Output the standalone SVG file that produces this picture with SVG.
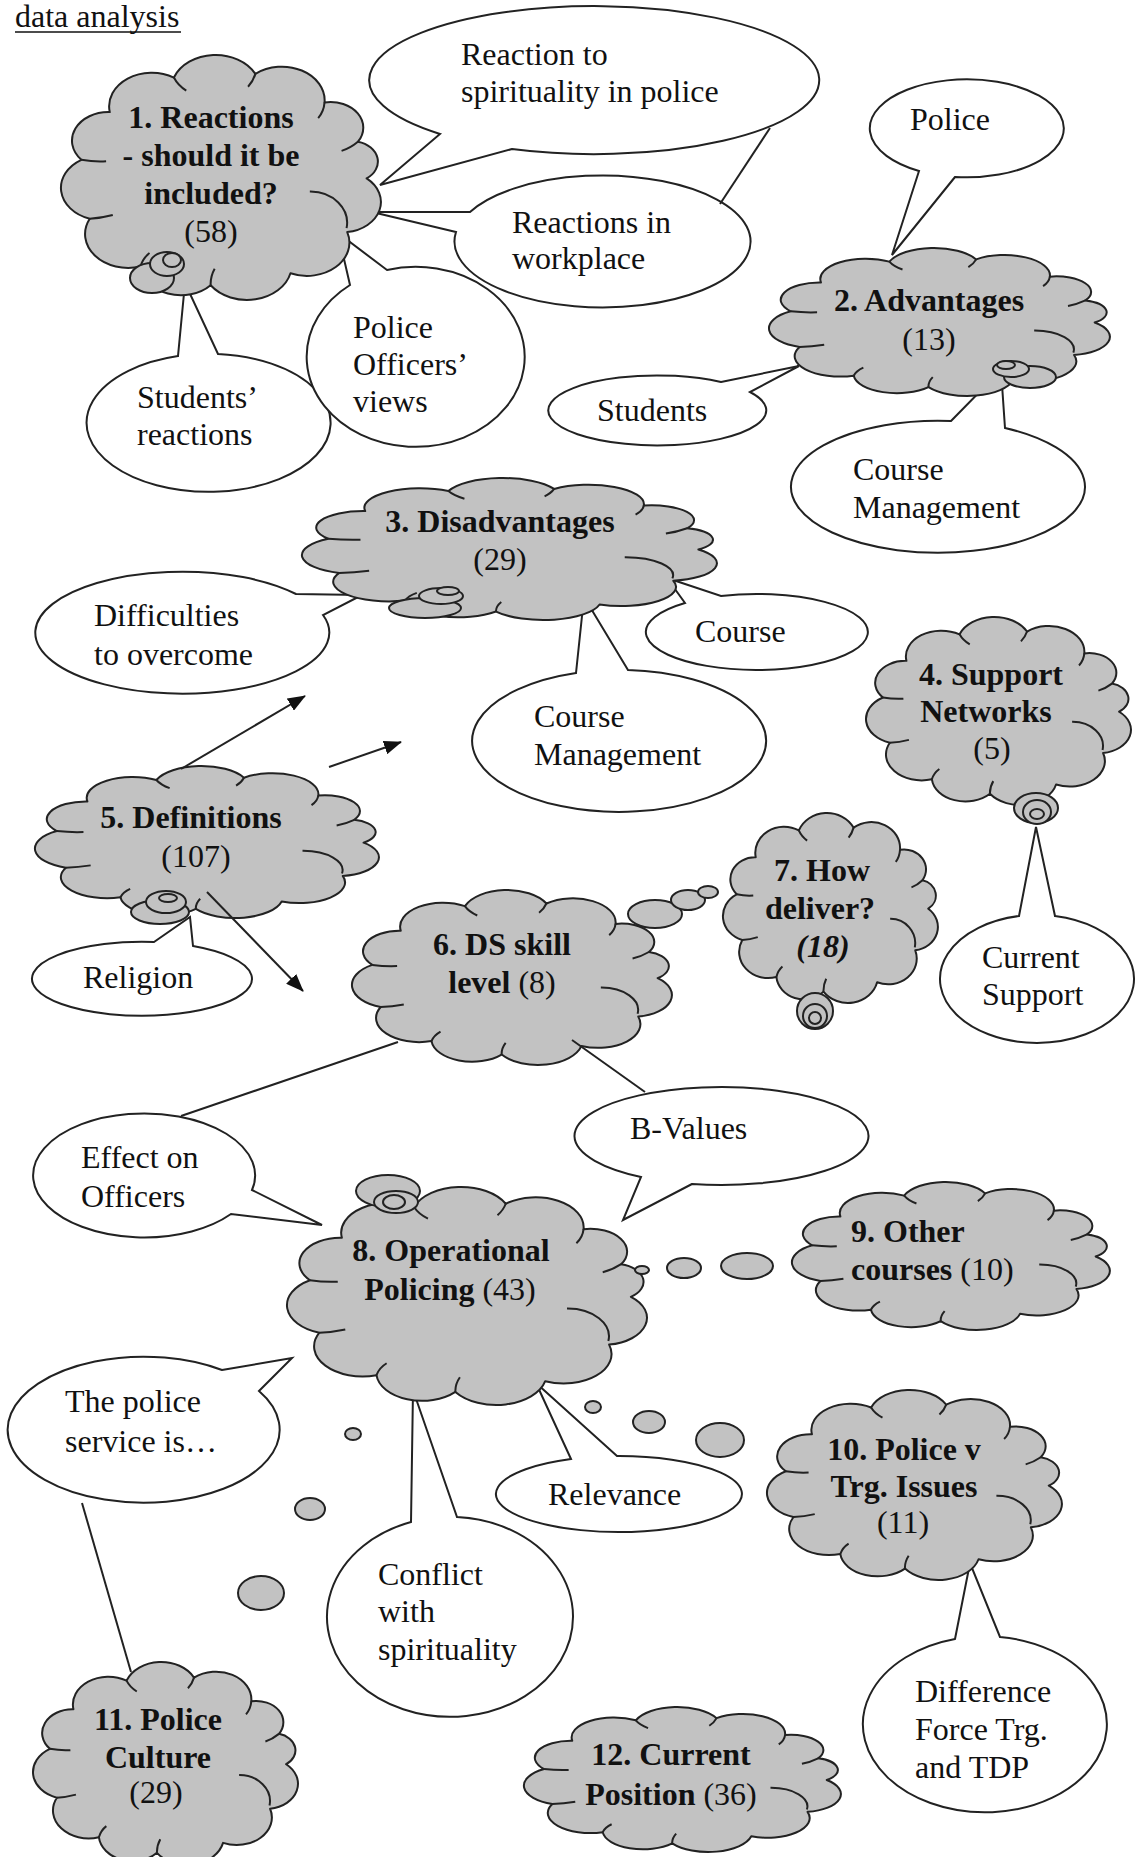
<svg xmlns="http://www.w3.org/2000/svg" xmlns:xlink="http://www.w3.org/1999/xlink" width="1141" height="1857" viewBox="0 0 1141 1857">
<style>
  .lbl{font-family:"Liberation Serif","Times New Roman",serif;font-size:32px;fill:#111}
  .b{font-weight:bold}
  .c{text-anchor:middle}
  .call{fill:#fff;stroke:#222;stroke-width:2;stroke-linejoin:miter}
  .bub{fill:#c2c2c2;stroke:#222;stroke-width:2}
  .con{fill:none;stroke:#222;stroke-width:2}
</style>
<defs>
  <!-- cloud outline in a 0..100 box, scaled per node -->
  <g id="cloud">
    <path fill="#c2c2c2" stroke="#222" stroke-width="2" vector-effect="non-scaling-stroke" stroke-linejoin="round"
      d="M93 50 A11.6 11.6 0 0 1 87.2 70.5 A12.7 12.7 0 0 1 70.2 86.2 A13.4 13.4 0 0 1 46.3 90.8 A12.2 12.2 0 0 1 25.3 83.6 A12.9 12.9 0 0 1 10.1 65.4 A12.4 12.4 0 0 1 7.6 42.9 A10.9 10.9 0 0 1 16.1 24.7 A12.8 12.8 0 0 1 35.3 11.5 A13.4 13.4 0 0 1 59.7 10.1 A12.8 12.8 0 0 1 80.4 21 A9.8 9.8 0 0 1 90.4 36 A7.8 7.8 0 0 1 93 50 Z"/>
    <path fill="none" stroke="#222" stroke-width="2" vector-effect="non-scaling-stroke"
      d="M7.6 42.9 Q11.5 43.8 15 43.5 M10.1 65.4 Q13.5 65.2 17 64 M87 69 A11 12 0 0 0 76 55 M35.3 11.5 Q36.5 14.5 39 16.5 M59.7 10.1 Q59 13 57.5 15 M80.4 21 Q80.2 24.5 78.5 27 M90.4 36 Q88 38.5 85.5 39.5 M46.3 90.8 Q46.2 87.5 47.5 84.5 M25.3 83.6 Q26 80.5 28 78.5"/>
  </g>
  <marker id="arr" markerUnits="userSpaceOnUse" markerWidth="18" markerHeight="14" refX="17" refY="7" orient="auto">
    <path d="M0 0 L18 7 L0 14 z" fill="#111"/>
  </marker>
</defs>

<rect width="1141" height="1857" fill="#fff"/>

<!-- heading -->
<g id="heading">
  <text class="lbl" x="15" y="27">data analysis</text>
  <line x1="15" y1="32" x2="181" y2="32" stroke="#111" stroke-width="1.6"/>
</g>

<!-- speech-bubble labels -->
<g id="c-reaction-spirituality">
  <path class="call" d="M512 149 L380 185 L440 134 A225 74 0 1 1 512 149 Z"/>
  <text class="lbl" x="461" y="65">Reaction to</text>
  <text class="lbl" x="461" y="102">spirituality in police</text>
</g>
<g id="c-reactions-workplace">
  <path class="call" d="M456 232 L372 212 L470 212 A148 66 0 1 1 456 232 Z"/>
  <text class="lbl" x="512" y="233">Reactions in</text>
  <text class="lbl" x="512" y="269">workplace</text>
</g>
<g id="c-police">
  <path class="call" d="M955 177 L892 255 L919 171 A97 49 0 1 1 955 177 Z"/>
  <text class="lbl" x="910" y="130">Police</text>
</g>
<g id="c-students">
  <path class="call" d="M721 382 L799 366 L750 392 A109 35 0 1 1 721 382 Z"/>
  <text class="lbl" x="597" y="421">Students</text>
</g>
<g id="c-course-management-2">
  <path class="call" d="M951 421 L1001 370 L1005 428 A147 66 0 1 1 951 421 Z"/>
  <text class="lbl" x="853" y="480">Course</text>
  <text class="lbl" x="853" y="518">Management</text>
</g>
<g id="c-students-reactions">
  <path class="call" d="M178 356 L185 283 L218 354 A122 69 0 1 1 178 356 Z"/>
  <text class="lbl" x="137" y="408">Students’</text>
  <text class="lbl" x="137" y="445">reactions</text>
</g>
<g id="c-officers-views">
  <path class="call" d="M350 285 L338 233 L387 270 A109 90 0 1 1 350 285 Z"/>
  <text class="lbl" x="353" y="338">Police</text>
  <text class="lbl" x="353" y="375">Officers’</text>
  <text class="lbl" x="353" y="412">views</text>
</g>
<g id="c-difficulties">
  <path class="call" d="M296 594 L362 595 L323 615 A147 61 0 1 1 296 594 Z"/>
  <text class="lbl" x="94" y="626">Difficulties</text>
  <text class="lbl" x="94" y="665">to overcome</text>
</g>
<g id="c-course">
  <path class="call" d="M685 603 L667 578 L721 596 A111 38 0 1 1 685 603 Z"/>
  <text class="lbl" x="695" y="642">Course</text>
</g>
<g id="c-course-management-3">
  <path class="call" d="M576 673 L584 597 L628 670 A147 71 0 1 1 576 673 Z"/>
  <text class="lbl" x="534" y="727">Course</text>
  <text class="lbl" x="534" y="765">Management</text>
</g>
<g id="c-religion">
  <path class="call" d="M154 942 L190 917 L193 946 A110 37 0 1 1 154 942 Z"/>
  <text class="lbl" x="83" y="988">Religion</text>
</g>
<g id="c-current-support">
  <path class="call" d="M1019 916 L1036 827 L1055 916 A97 64 0 1 1 1019 916 Z"/>
  <text class="lbl" x="982" y="968">Current</text>
  <text class="lbl" x="982" y="1005">Support</text>
</g>
<g id="c-effect-officers">
  <path class="call" d="M252 1190 L322 1225 L231 1214 A111 62 0 1 1 252 1190 Z"/>
  <text class="lbl" x="81" y="1168">Effect on</text>
  <text class="lbl" x="81" y="1207">Officers</text>
</g>
<g id="c-b-values">
  <path class="call" d="M692 1184 L623 1220 L641 1177 A147 49 0 1 1 692 1184 Z"/>
  <text class="lbl" x="630" y="1139">B-Values</text>
</g>
<g id="c-police-service">
  <path class="call" d="M222 1370 L292 1358 L259 1391 A136 73 0 1 1 222 1370 Z"/>
  <text class="lbl" x="65" y="1412">The police</text>
  <text class="lbl" x="65" y="1452">service is…</text>
</g>
<g id="c-relevance">
  <path class="call" d="M571 1459 L536 1383 L617 1456 A123 38 0 1 1 571 1459 Z"/>
  <text class="lbl" x="548" y="1505">Relevance</text>
</g>
<g id="c-conflict">
  <path class="call" d="M411 1522 L413 1390 L457 1517 A123 100 0 1 1 411 1522 Z"/>
  <text class="lbl" x="378" y="1585">Conflict</text>
  <text class="lbl" x="378" y="1622">with</text>
  <text class="lbl" x="378" y="1660">spirituality</text>
</g>
<g id="c-difference">
  <path class="call" d="M955 1639 L970 1563 L1000 1637 A122 88 0 1 1 955 1639 Z"/>
  <text class="lbl" x="915" y="1702">Difference</text>
  <text class="lbl" x="915" y="1740">Force Trg.</text>
  <text class="lbl" x="915" y="1778">and TDP</text>
</g>

<!-- theme clouds -->
<g id="n1">
  <use href="#cloud" transform="translate(56 47.4) scale(3.34 2.62)"/>
  <ellipse class="bub" cx="152" cy="278" rx="22" ry="15"/>
  <ellipse class="bub" cx="167" cy="264" rx="17" ry="12"/>
  <ellipse class="bub" cx="172" cy="260" rx="9" ry="7"/>
  <text class="lbl b c" x="211" y="128">1. Reactions</text>
  <text class="lbl b c" x="211" y="166">- should it be</text>
  <text class="lbl b c" x="211" y="204">included?</text>
  <text class="lbl c" x="211" y="242">(58)</text>
</g>
<g id="n2">
  <use href="#cloud" transform="translate(763.7 243.4) scale(3.559 1.583)"/>
  <ellipse class="bub" cx="1030" cy="377" rx="26" ry="11"/>
  <ellipse class="bub" cx="1011" cy="369" rx="18" ry="8"/>
  <ellipse class="bub" cx="1006" cy="365" rx="9" ry="4"/>
  <text class="lbl b c" x="929" y="311">2. Advantages</text>
  <text class="lbl c" x="929" y="350">(13)</text>
</g>
<g id="n3">
  <use href="#cloud" transform="translate(295.5 473.6) scale(4.332 1.519)"/>
  <ellipse class="bub" cx="425" cy="608" rx="36" ry="10"/>
  <ellipse class="bub" cx="441" cy="596" rx="22" ry="8"/>
  <ellipse class="bub" cx="448" cy="591" rx="11" ry="4"/>
  <text class="lbl b c" x="500" y="532">3. Disadvantages</text>
  <text class="lbl c" x="500" y="570">(29)</text>
</g>
<g id="n4">
  <use href="#cloud" transform="translate(861.9 611.2) scale(2.766 2.011)"/>
  <ellipse class="bub" cx="1036" cy="808" rx="22" ry="15"/>
  <ellipse class="bub" cx="1037" cy="812" rx="14" ry="12"/>
  <ellipse class="bub" cx="1037" cy="814" rx="7" ry="5"/>
  <text class="lbl b c" x="991" y="685">4. Support</text>
  <text class="lbl b c" x="986" y="722">Networks</text>
  <text class="lbl c" x="992" y="759">(5)</text>
</g>
<g id="n5">
  <use href="#cloud" transform="translate(29.6 761.3) scale(3.591 1.626)"/>
  <ellipse class="bub" cx="160" cy="912" rx="29" ry="12"/>
  <ellipse class="bub" cx="166" cy="902" rx="20" ry="11"/>
  <ellipse class="bub" cx="168" cy="898" rx="9" ry="4"/>
  <text class="lbl b c" x="191" y="828">5. Definitions</text>
  <text class="lbl c" x="196" y="867">(107)</text>
</g>
<g id="n6">
  <use href="#cloud" transform="translate(347 884.6) scale(3.34 1.872)"/>
  <ellipse class="bub" cx="655" cy="914" rx="27" ry="14"/>
  <ellipse class="bub" cx="688" cy="900" rx="17" ry="10"/>
  <ellipse class="bub" cx="708" cy="892" rx="10" ry="6"/>
  <text class="lbl b c" x="502" y="955">6. DS skill</text>
  <text class="lbl c" x="502" y="993"><tspan class="b">level</tspan> (8)</text>
</g>
<g id="n7">
  <use href="#cloud" transform="translate(719.6 807.1) scale(2.244 2.032)"/>
  <ellipse class="bub" cx="815" cy="1011" rx="18" ry="18"/>
  <ellipse class="bub" cx="815" cy="1016" rx="12" ry="12"/>
  <ellipse class="bub" cx="815" cy="1018" rx="6" ry="6"/>
  <text class="lbl b c" x="822" y="881">7. How</text>
  <text class="lbl b c" x="820" y="919">deliver?</text>
  <text class="lbl b c" x="823" y="957" font-style="italic">(18)</text>
</g>
<g id="n8">
  <use href="#cloud" transform="translate(281.4 1180.2) scale(3.758 2.332)"/>
  <ellipse class="bub" cx="388" cy="1191" rx="32" ry="16"/>
  <ellipse class="bub" cx="396" cy="1202" rx="22" ry="11"/>
  <ellipse class="bub" cx="394" cy="1202" rx="11" ry="7"/>
  <!-- thought trail towards 9 -->
  <ellipse class="bub" cx="642" cy="1270" rx="7" ry="4"/>
  <ellipse class="bub" cx="684" cy="1268" rx="17" ry="10"/>
  <ellipse class="bub" cx="747" cy="1266" rx="26" ry="13"/>
  <!-- thought trail towards 11 -->
  <ellipse class="bub" cx="353" cy="1434" rx="8" ry="6"/>
  <ellipse class="bub" cx="310" cy="1509" rx="15" ry="11"/>
  <ellipse class="bub" cx="261" cy="1593" rx="23" ry="17"/>
  <!-- thought trail towards 10 -->
  <ellipse class="bub" cx="593" cy="1407" rx="8" ry="6"/>
  <ellipse class="bub" cx="649" cy="1422" rx="16" ry="11"/>
  <ellipse class="bub" cx="720" cy="1440" rx="24" ry="17"/>
  <text class="lbl b c" x="451" y="1261">8. Operational</text>
  <text class="lbl c" x="450" y="1300"><tspan class="b">Policing</tspan> (43)</text>
</g>
<g id="n9">
  <use href="#cloud" transform="translate(787 1177.4) scale(3.319 1.583)"/>
  <text class="lbl b" x="851" y="1242">9. Other</text>
  <text class="lbl" x="851" y="1280"><tspan class="b">courses</tspan> (10)</text>
</g>
<g id="n10">
  <use href="#cloud" transform="translate(762.4 1384.1) scale(3.079 2.032)"/>
  <text class="lbl b c" x="904" y="1460">10. Police v</text>
  <text class="lbl b c" x="904" y="1497">Trg. Issues</text>
  <text class="lbl c" x="903" y="1533">(11)</text>
</g>
<g id="n11">
  <use href="#cloud" transform="translate(28.9 1655.7) scale(2.766 2.171)"/>
  <text class="lbl b c" x="158" y="1730">11. Police</text>
  <text class="lbl b c" x="158" y="1768">Culture</text>
  <text class="lbl c" x="156" y="1803">(29)</text>
</g>
<g id="n12">
  <use href="#cloud" transform="translate(519 1702.5) scale(3.309 1.551)"/>
  <text class="lbl b c" x="671" y="1765">12. Current</text>
  <text class="lbl c" x="671" y="1805"><tspan class="b">Position</tspan> (36)</text>
</g>

<!-- links and arrows -->
<g id="connectors" class="con">
  <line x1="770" y1="128" x2="720" y2="204"/>
  <line x1="398" y1="1042" x2="181" y2="1116"/>
  <line x1="572" y1="1040" x2="645" y2="1092"/>
  <line x1="82" y1="1503" x2="131" y2="1672"/>
  <line x1="181" y1="769" x2="305" y2="696" marker-end="url(#arr)"/>
  <line x1="329" y1="767" x2="401" y2="742" marker-end="url(#arr)"/>
  <line x1="207" y1="892" x2="303" y2="991" marker-end="url(#arr)"/>
</g>
</svg>
